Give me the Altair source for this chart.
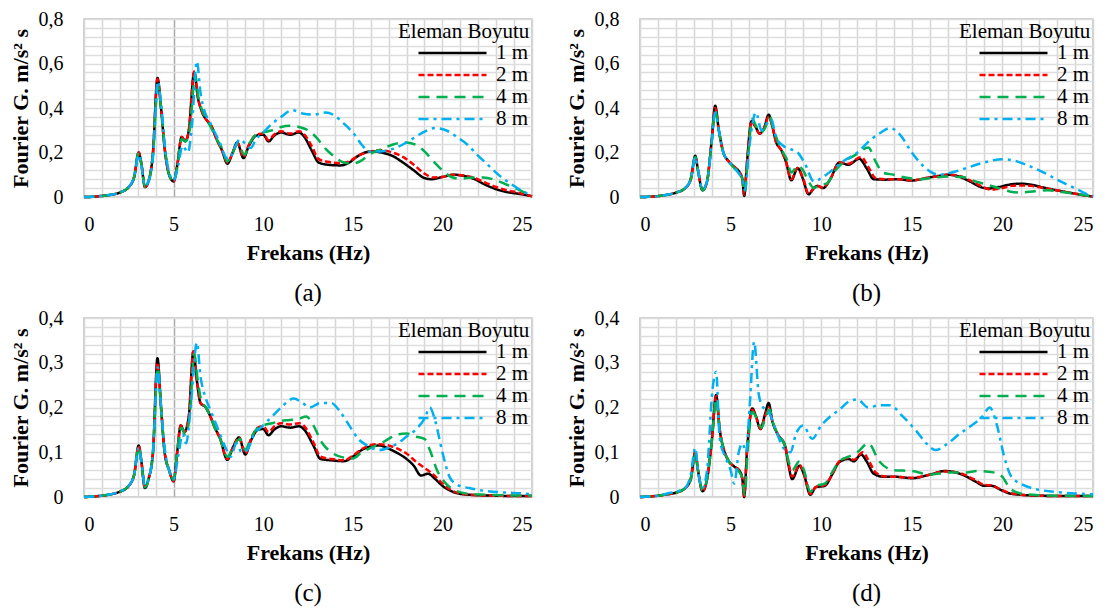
import altair as alt
import pandas as pd

SERIES = ["1 m", "2 m", "4 m", "8 m"]
COLORS = ["#000000", "#ff0000", "#00b050", "#00b0f0"]
DASHES = [[1, 0], [6, 3], [11, 7], [10, 5, 3, 5]]

# ---------------- panel (a) ----------------
A_1M = [(0,0),(0.5,0.001),(1,0.005),(1.5,0.01),(2,0.02),(2.5,0.045),(2.8,0.09),(3.05,0.2),(3.2,0.15),(3.4,0.045),(3.6,0.07),(3.85,0.2),(4.1,0.535),(4.3,0.4),(4.5,0.22),(4.75,0.1),(5.0,0.07),(5.2,0.14),(5.45,0.27),(5.65,0.25),(5.85,0.3),(6.15,0.56),(6.35,0.45),(6.6,0.38),(6.9,0.34),(7.1,0.32),(7.4,0.26),(7.7,0.21),(8.0,0.15),(8.3,0.2),(8.55,0.245),(8.9,0.175),(9.2,0.23),(9.6,0.275),(10.0,0.28),(10.3,0.25),(10.6,0.275),(11.0,0.29),(11.5,0.28),(12.0,0.29),(12.3,0.27),(12.7,0.21),(13.1,0.155),(13.6,0.145),(14.3,0.142),(14.8,0.155),(15.3,0.185),(16.0,0.205),(16.6,0.2),(17.2,0.185),(17.8,0.155),(18.4,0.12),(19.0,0.085),(19.4,0.08),(20.0,0.09),(20.6,0.1),(21.2,0.095),(21.8,0.08),(22.4,0.055),(23.0,0.035),(23.6,0.022),(24.2,0.015),(24.6,0.01),(25,0.003)]
A_2M = [(0,0),(0.5,0.001),(1,0.005),(1.5,0.01),(2,0.02),(2.5,0.045),(2.8,0.09),(3.05,0.2),(3.2,0.15),(3.4,0.045),(3.6,0.07),(3.85,0.2),(4.1,0.53),(4.3,0.4),(4.5,0.22),(4.75,0.1),(5.0,0.07),(5.2,0.14),(5.45,0.27),(5.65,0.25),(5.85,0.3),(6.15,0.565),(6.35,0.45),(6.6,0.38),(6.9,0.34),(7.1,0.32),(7.4,0.26),(7.7,0.21),(8.0,0.155),(8.3,0.2),(8.55,0.245),(8.9,0.18),(9.2,0.235),(9.6,0.28),(10.0,0.285),(10.3,0.255),(10.6,0.28),(11.0,0.295),(11.5,0.285),(12.0,0.295),(12.3,0.28),(12.7,0.23),(13.1,0.17),(13.6,0.158),(14.3,0.152),(14.8,0.16),(15.3,0.185),(16.0,0.205),(16.6,0.21),(17.2,0.2),(17.8,0.18),(18.4,0.145),(19.0,0.105),(19.5,0.088),(20.0,0.09),(20.6,0.1),(21.2,0.097),(21.8,0.085),(22.4,0.065),(23.0,0.045),(23.6,0.03),(24.2,0.02),(24.6,0.012),(25,0.003)]
A_4M = [(0,0),(0.5,0.001),(1,0.005),(1.5,0.01),(2,0.02),(2.5,0.045),(2.8,0.09),(3.05,0.2),(3.2,0.15),(3.4,0.045),(3.6,0.07),(3.85,0.19),(4.12,0.5),(4.3,0.4),(4.5,0.23),(4.75,0.1),(5.0,0.07),(5.2,0.13),(5.45,0.26),(5.65,0.25),(5.9,0.3),(6.2,0.55),(6.4,0.44),(6.65,0.38),(6.9,0.34),(7.1,0.31),(7.4,0.26),(7.7,0.22),(8.0,0.16),(8.3,0.2),(8.6,0.24),(8.95,0.19),(9.3,0.25),(9.6,0.28),(10.0,0.29),(10.5,0.3),(11.0,0.315),(11.5,0.32),(12.0,0.315),(12.5,0.3),(13.0,0.265),(13.5,0.215),(14.0,0.18),(14.5,0.155),(15.0,0.15),(15.5,0.165),(16.0,0.195),(16.6,0.215),(17.2,0.235),(17.9,0.245),(18.5,0.235),(19.0,0.205),(19.5,0.16),(20.0,0.12),(20.5,0.09),(21.0,0.082),(21.7,0.088),(22.3,0.088),(23.0,0.075),(23.6,0.055),(24.2,0.035),(24.7,0.015),(25,0.003)]
A_8M = [(0,0),(0.5,0.001),(1,0.005),(1.5,0.01),(2,0.02),(2.5,0.045),(2.8,0.09),(3.05,0.19),(3.2,0.14),(3.4,0.05),(3.6,0.07),(3.85,0.18),(4.12,0.52),(4.3,0.42),(4.5,0.24),(4.75,0.11),(5.0,0.075),(5.25,0.14),(5.5,0.23),(5.8,0.2),(6.0,0.3),(6.3,0.61),(6.5,0.47),(6.75,0.38),(7.0,0.34),(7.3,0.29),(7.6,0.24),(7.9,0.18),(8.1,0.17),(8.4,0.22),(8.7,0.26),(9.0,0.24),(9.3,0.22),(9.6,0.26),(10.0,0.29),(10.5,0.33),(11.0,0.36),(11.6,0.39),(12.2,0.375),(12.8,0.37),(13.5,0.38),(14.0,0.365),(14.5,0.33),(15.0,0.29),(15.5,0.235),(15.9,0.205),(16.5,0.205),(17.2,0.215),(18.0,0.245),(18.8,0.285),(19.6,0.31),(20.2,0.3),(20.8,0.27),(21.4,0.235),(22.0,0.185),(22.6,0.14),(23.2,0.095),(23.8,0.06),(24.4,0.03),(25,0.005)]

# ---------------- panel (b) ----------------
B_1M = [(0,0),(0.5,0.001),(1,0.004),(1.5,0.01),(2,0.02),(2.5,0.04),(2.8,0.08),(3.05,0.185),(3.2,0.12),(3.45,0.03),(3.7,0.07),(3.95,0.25),(4.15,0.41),(4.35,0.3),(4.6,0.2),(4.9,0.16),(5.2,0.135),(5.5,0.11),(5.65,0.08),(5.75,0.005),(5.9,0.15),(6.15,0.34),(6.35,0.32),(6.6,0.285),(6.85,0.31),(7.1,0.37),(7.3,0.32),(7.5,0.25),(7.8,0.21),(8.05,0.16),(8.35,0.075),(8.7,0.13),(9.0,0.08),(9.3,0.012),(9.6,0.04),(9.8,0.05),(10.1,0.04),(10.5,0.08),(11.0,0.155),(11.5,0.145),(12.1,0.172),(12.5,0.13),(12.9,0.08),(13.5,0.078),(14.2,0.08),(15.0,0.074),(15.8,0.085),(16.5,0.095),(17.0,0.1),(17.6,0.092),(18.2,0.07),(18.8,0.045),(19.2,0.038),(19.8,0.045),(20.5,0.057),(21.0,0.06),(21.6,0.055),(22.3,0.042),(23.0,0.03),(23.8,0.018),(24.5,0.008),(25,0.002)]
B_2M = [(0,0),(0.5,0.001),(1,0.004),(1.5,0.01),(2,0.02),(2.5,0.04),(2.8,0.08),(3.05,0.18),(3.2,0.12),(3.45,0.03),(3.7,0.07),(3.95,0.25),(4.15,0.4),(4.35,0.3),(4.6,0.2),(4.9,0.16),(5.2,0.135),(5.5,0.11),(5.65,0.08),(5.75,0.01),(5.9,0.15),(6.15,0.34),(6.35,0.32),(6.6,0.285),(6.85,0.31),(7.1,0.36),(7.3,0.32),(7.5,0.25),(7.8,0.21),(8.05,0.16),(8.35,0.08),(8.7,0.13),(9.0,0.085),(9.3,0.015),(9.6,0.04),(9.8,0.05),(10.1,0.042),(10.5,0.08),(11.0,0.155),(11.5,0.15),(12.2,0.18),(12.6,0.135),(13.0,0.085),(13.5,0.08),(14.2,0.08),(15.0,0.075),(15.8,0.085),(16.5,0.095),(17.0,0.1),(17.6,0.095),(18.2,0.075),(18.8,0.05),(19.4,0.033),(20.0,0.04),(20.5,0.05),(21.0,0.052),(21.6,0.05),(22.3,0.04),(23.0,0.03),(23.8,0.018),(24.5,0.008),(25,0.002)]
B_4M = [(0,0),(0.5,0.001),(1,0.004),(1.5,0.01),(2,0.02),(2.5,0.04),(2.8,0.08),(3.05,0.18),(3.2,0.12),(3.45,0.03),(3.7,0.07),(3.95,0.24),(4.15,0.39),(4.35,0.3),(4.6,0.2),(4.9,0.16),(5.2,0.13),(5.5,0.11),(5.65,0.08),(5.78,0.02),(5.95,0.17),(6.2,0.35),(6.4,0.32),(6.65,0.29),(6.9,0.31),(7.15,0.36),(7.35,0.31),(7.6,0.25),(7.9,0.2),(8.1,0.17),(8.35,0.11),(8.7,0.14),(9.0,0.12),(9.3,0.07),(9.6,0.04),(9.9,0.055),(10.3,0.06),(10.7,0.11),(11.2,0.155),(11.8,0.185),(12.6,0.222),(13.0,0.16),(13.4,0.11),(14.0,0.1),(14.8,0.085),(15.5,0.08),(16.3,0.088),(17.0,0.092),(17.8,0.09),(18.5,0.07),(19.2,0.055),(19.8,0.04),(20.4,0.025),(21.0,0.02),(21.8,0.026),(22.5,0.03),(23.3,0.022),(24.2,0.012),(25,0.002)]
B_8M = [(0,0),(0.5,0.001),(1,0.004),(1.5,0.01),(2,0.02),(2.5,0.04),(2.8,0.08),(3.05,0.18),(3.2,0.12),(3.45,0.035),(3.7,0.07),(3.95,0.24),(4.15,0.38),(4.35,0.3),(4.6,0.2),(4.9,0.16),(5.2,0.13),(5.5,0.1),(5.7,0.06),(5.8,0.03),(6.0,0.2),(6.4,0.38),(6.7,0.3),(7.0,0.33),(7.25,0.35),(7.5,0.27),(7.9,0.23),(8.3,0.215),(8.7,0.2),(9.1,0.15),(9.6,0.07),(10.1,0.09),(10.6,0.12),(11.2,0.16),(12.0,0.2),(12.7,0.255),(13.3,0.29),(13.8,0.31),(14.4,0.275),(15.0,0.2),(15.5,0.15),(16.0,0.115),(16.5,0.1),(17.2,0.11),(18.0,0.13),(19.0,0.155),(20.0,0.17),(20.8,0.16),(21.6,0.135),(22.4,0.105),(23.2,0.07),(24.0,0.04),(24.6,0.015),(25,0.002)]

# ---------------- panel (c) ----------------
C_1M = [(0,0),(0.5,0.001),(1,0.003),(1.5,0.006),(2,0.012),(2.5,0.025),(2.8,0.05),(3.05,0.115),(3.2,0.08),(3.4,0.02),(3.6,0.04),(3.85,0.1),(4.1,0.31),(4.3,0.2),(4.5,0.1),(4.75,0.06),(5.0,0.035),(5.2,0.1),(5.4,0.16),(5.6,0.145),(5.85,0.18),(6.1,0.325),(6.3,0.26),(6.5,0.21),(6.8,0.2),(7.0,0.185),(7.3,0.155),(7.6,0.13),(8.0,0.083),(8.3,0.11),(8.65,0.133),(9.0,0.095),(9.3,0.125),(9.7,0.15),(10.0,0.152),(10.3,0.138),(10.6,0.15),(11.0,0.158),(11.5,0.155),(12.0,0.158),(12.3,0.15),(12.8,0.115),(13.2,0.085),(13.8,0.082),(14.5,0.08),(15.0,0.09),(15.5,0.105),(16.0,0.113),(16.5,0.115),(17.0,0.108),(17.5,0.098),(18.0,0.085),(18.4,0.07),(18.8,0.048),(19.2,0.052),(19.6,0.04),(20.0,0.025),(20.5,0.013),(21.0,0.007),(22.0,0.004),(23.0,0.003),(24.0,0.002),(25,0.002)]
C_2M = [(0,0),(0.5,0.001),(1,0.003),(1.5,0.006),(2,0.012),(2.5,0.025),(2.8,0.05),(3.05,0.115),(3.2,0.08),(3.4,0.02),(3.6,0.04),(3.85,0.1),(4.1,0.3),(4.3,0.2),(4.5,0.1),(4.75,0.06),(5.0,0.035),(5.2,0.1),(5.4,0.16),(5.6,0.145),(5.85,0.18),(6.1,0.325),(6.3,0.26),(6.5,0.21),(6.8,0.2),(7.0,0.185),(7.3,0.155),(7.6,0.13),(8.0,0.085),(8.3,0.11),(8.65,0.133),(9.0,0.097),(9.3,0.128),(9.7,0.155),(10.0,0.158),(10.3,0.145),(10.6,0.157),(11.0,0.165),(11.5,0.162),(12.0,0.165),(12.3,0.158),(12.8,0.122),(13.2,0.09),(13.8,0.085),(14.5,0.082),(15.0,0.092),(15.5,0.107),(16.0,0.116),(16.5,0.118),(17.0,0.115),(17.5,0.108),(18.0,0.097),(18.5,0.08),(19.0,0.065),(19.5,0.05),(20.0,0.03),(20.5,0.015),(21.0,0.008),(22.0,0.004),(23.0,0.003),(24.0,0.002),(25,0.002)]
C_4M = [(0,0),(0.5,0.001),(1,0.003),(1.5,0.006),(2,0.012),(2.5,0.025),(2.8,0.05),(3.05,0.11),(3.2,0.08),(3.4,0.022),(3.6,0.04),(3.85,0.1),(4.12,0.29),(4.3,0.2),(4.5,0.1),(4.75,0.06),(5.0,0.038),(5.2,0.1),(5.45,0.155),(5.65,0.14),(5.9,0.18),(6.15,0.32),(6.35,0.26),(6.55,0.215),(6.8,0.2),(7.0,0.185),(7.3,0.155),(7.6,0.13),(8.0,0.09),(8.3,0.11),(8.7,0.13),(9.0,0.105),(9.3,0.13),(9.7,0.155),(10.0,0.16),(10.5,0.165),(11.0,0.17),(11.5,0.172),(12.0,0.175),(12.4,0.18),(12.8,0.16),(13.3,0.12),(13.8,0.1),(14.5,0.088),(15.0,0.086),(15.5,0.1),(16.0,0.11),(16.5,0.118),(17.0,0.13),(17.5,0.14),(18.0,0.142),(18.5,0.135),(19.0,0.13),(19.3,0.105),(19.7,0.06),(20.2,0.03),(20.7,0.015),(21.5,0.007),(22.5,0.005),(25,0.003)]
C_8M = [(0,0),(0.5,0.001),(1,0.003),(1.5,0.006),(2,0.012),(2.5,0.025),(2.8,0.05),(3.05,0.11),(3.2,0.08),(3.4,0.025),(3.6,0.04),(3.85,0.1),(4.12,0.29),(4.3,0.2),(4.5,0.11),(4.75,0.06),(5.0,0.04),(5.25,0.09),(5.5,0.14),(5.7,0.12),(5.95,0.2),(6.3,0.345),(6.5,0.27),(6.8,0.22),(7.1,0.19),(7.5,0.15),(7.9,0.11),(8.2,0.09),(8.5,0.12),(8.8,0.1),(9.1,0.105),(9.5,0.14),(10.0,0.16),(10.5,0.18),(11.0,0.2),(11.7,0.22),(12.2,0.21),(12.6,0.2),(13.2,0.21),(13.8,0.21),(14.3,0.19),(14.8,0.16),(15.3,0.13),(15.8,0.115),(16.5,0.105),(17.0,0.11),(17.5,0.12),(18.0,0.135),(18.5,0.15),(19.0,0.175),(19.3,0.2),(19.6,0.17),(20.0,0.1),(20.4,0.045),(20.8,0.028),(21.5,0.02),(22.5,0.013),(23.5,0.01),(24.5,0.008),(25,0.006)]

# ---------------- panel (d) ----------------
D_1M = [(0,0),(0.5,0.001),(1,0.003),(1.5,0.006),(2,0.01),(2.5,0.02),(2.8,0.04),(3.05,0.1),(3.2,0.06),(3.45,0.013),(3.7,0.04),(3.95,0.12),(4.2,0.228),(4.4,0.15),(4.6,0.11),(4.9,0.08),(5.2,0.068),(5.5,0.058),(5.65,0.04),(5.75,0.0),(5.9,0.1),(6.2,0.198),(6.4,0.18),(6.65,0.152),(6.9,0.185),(7.1,0.21),(7.3,0.17),(7.6,0.14),(8.0,0.115),(8.2,0.07),(8.4,0.04),(8.8,0.07),(9.05,0.05),(9.4,0.005),(9.7,0.022),(10.2,0.025),(10.6,0.05),(11.0,0.078),(11.5,0.085),(11.8,0.08),(12.2,0.095),(12.5,0.08),(12.9,0.052),(13.5,0.045),(14.2,0.045),(15.0,0.042),(16.0,0.05),(16.8,0.058),(17.5,0.054),(18.0,0.046),(18.5,0.035),(19.0,0.025),(19.4,0.025),(19.9,0.016),(20.4,0.008),(21.0,0.005),(22.0,0.003),(23.5,0.002),(25,0.002)]
D_2M = [(0,0),(0.5,0.001),(1,0.003),(1.5,0.006),(2,0.01),(2.5,0.02),(2.8,0.04),(3.05,0.1),(3.2,0.06),(3.45,0.013),(3.7,0.04),(3.95,0.12),(4.2,0.225),(4.4,0.15),(4.6,0.11),(4.9,0.08),(5.2,0.068),(5.5,0.058),(5.65,0.04),(5.75,0.002),(5.9,0.1),(6.2,0.195),(6.4,0.18),(6.65,0.152),(6.9,0.18),(7.1,0.2),(7.3,0.17),(7.6,0.14),(8.0,0.115),(8.2,0.075),(8.4,0.045),(8.8,0.072),(9.05,0.052),(9.4,0.007),(9.7,0.022),(10.2,0.027),(10.6,0.05),(11.0,0.08),(11.5,0.087),(11.8,0.083),(12.3,0.1),(12.6,0.083),(13.0,0.055),(13.5,0.046),(14.2,0.045),(15.0,0.043),(16.0,0.05),(16.8,0.057),(17.5,0.055),(18.0,0.048),(18.5,0.038),(19.0,0.027),(19.4,0.026),(19.9,0.017),(20.4,0.009),(21.0,0.005),(22.0,0.003),(23.5,0.002),(25,0.002)]
D_4M = [(0,0),(0.5,0.001),(1,0.003),(1.5,0.006),(2,0.01),(2.5,0.02),(2.8,0.04),(3.05,0.095),(3.2,0.06),(3.45,0.015),(3.7,0.04),(3.95,0.12),(4.22,0.22),(4.4,0.15),(4.6,0.11),(4.9,0.08),(5.2,0.065),(5.5,0.055),(5.65,0.04),(5.78,0.005),(5.95,0.11),(6.2,0.19),(6.45,0.175),(6.7,0.155),(6.95,0.18),(7.15,0.195),(7.35,0.165),(7.6,0.14),(8.0,0.115),(8.2,0.08),(8.4,0.06),(8.8,0.08),(9.05,0.06),(9.4,0.012),(9.7,0.025),(10.2,0.03),(10.6,0.055),(11.0,0.08),(11.5,0.09),(12.0,0.1),(12.6,0.12),(13.2,0.08),(14.0,0.06),(15.0,0.058),(16.0,0.05),(17.0,0.055),(18.0,0.055),(18.6,0.058),(19.5,0.055),(20.0,0.045),(20.4,0.02),(21.0,0.008),(22.0,0.004),(25,0.002)]
D_8M = [(0,0),(0.5,0.001),(1,0.003),(1.5,0.008),(2,0.012),(2.5,0.02),(2.8,0.05),(3.05,0.11),(3.2,0.06),(3.45,0.02),(3.7,0.06),(4.0,0.24),(4.2,0.28),(4.4,0.13),(4.7,0.09),(5.0,0.06),(5.2,0.03),(5.45,0.1),(5.65,0.12),(5.85,0.1),(6.05,0.2),(6.3,0.347),(6.55,0.23),(6.8,0.2),(7.1,0.19),(7.5,0.15),(7.9,0.11),(8.3,0.1),(8.6,0.14),(9.0,0.16),(9.5,0.13),(10.0,0.16),(10.5,0.18),(11.0,0.195),(11.6,0.215),(12.0,0.218),(12.6,0.2),(13.2,0.205),(13.8,0.205),(14.5,0.18),(15.2,0.15),(15.8,0.12),(16.3,0.105),(17.0,0.12),(17.6,0.14),(18.3,0.16),(18.9,0.18),(19.3,0.2),(19.7,0.16),(20.1,0.09),(20.5,0.045),(21.0,0.03),(21.8,0.018),(22.8,0.012),(24.0,0.008),(25,0.006)]

X_TITLE = "Frekans (Hz)"
Y_TITLE = "Fourier G. m/s² s"
LEGEND_TITLE = "Eleman Boyutu"
FONT = "Liberation Serif"


def panel(series, ymax, ystep, label_every, width, height, label, dark5):
    rows = []
    for name, pts in zip(SERIES, series):
        for i, (f, v) in enumerate(pts):
            rows.append({"f": f, "v": v, "s": name, "i": i})
    df = pd.DataFrame(rows)
    n = int(round(ymax / ystep))
    yvals = [round(k * ystep, 4) for k in range(n + 1)]
    grid_x = ({"condition": {"test": "datum.value === 5", "value": "#a9a9a9"}, "value": "#d6d6d6"}
              if dark5 else "#d6d6d6")
    lab_y = (f"round(datum.value*100) % {label_every} == 0 ? "
             "(datum.value == 0 ? '0' : replace(format(datum.value, '.1f'), '.', ',')) : ''")
    return alt.Chart(df).mark_line(interpolate="monotone", strokeWidth=2.5).encode(
        x=alt.X("f:Q", scale=alt.Scale(domain=[0, 25], nice=False, zero=True),
                axis=alt.Axis(values=list(range(26)), title=X_TITLE, gridColor=grid_x,
                              labelExpr="datum.value % 5 == 0 ? datum.label : ''",
                              labelOverlap=False, labelPadding=17, titlePadding=8)),
        y=alt.Y("v:Q", scale=alt.Scale(domain=[0, ymax], nice=False),
                axis=alt.Axis(values=yvals, title=Y_TITLE, labelExpr=lab_y,
                              labelOverlap=False, labelPadding=21, titlePadding=6)),
        color=alt.Color("s:N", scale=alt.Scale(domain=SERIES, range=COLORS),
                        legend=alt.Legend(title=LEGEND_TITLE)),
        strokeDash=alt.StrokeDash("s:N", scale=alt.Scale(domain=SERIES, range=DASHES),
                                  legend=alt.Legend(title=LEGEND_TITLE)),
        order="i:Q",
    ).properties(
        width=width, height=height,
        title=alt.TitleParams(label, orient="bottom", anchor="middle", frame="group",
                              font=FONT, fontSize=25, fontWeight="normal", color="black", offset=18),
    )


pa = panel([A_1M, A_2M, A_4M, A_8M], 0.8, 0.04, 20, 448, 178, "(a)", True)
pb = panel([B_1M, B_2M, B_4M, B_8M], 0.8, 0.04, 20, 453, 178, "(b)", False)
pc = panel([C_1M, C_2M, C_4M, C_8M], 0.4, 0.02, 10, 448, 179, "(c)", True)
pd_ = panel([D_1M, D_2M, D_4M, D_8M], 0.4, 0.02, 10, 453, 179, "(d)", False)


def indep(ch):
    return ch.resolve_scale(color="independent", strokeDash="independent").resolve_legend(
        color="independent", strokeDash="independent")


row1 = indep(alt.hconcat(pa, pb, spacing=26))
row2 = indep(alt.hconcat(pc, pd_, spacing=26))
chart = indep(alt.vconcat(row1, row2, spacing=0)).properties(padding=0).configure_view(
    stroke="#bfbfbf", strokeWidth=1.5
).configure_axis(
    domain=False, ticks=False, gridWidth=1.5,
    labelFont=FONT, labelFontSize=20, labelColor="black",
    titleFont=FONT, titleFontSize=22, titleFontWeight="bold", titleColor="black",
).configure_legend(
    orient="top-right", offset=2, padding=0,
    titleFont=FONT, titleFontSize=21, titleFontWeight="normal", titleColor="black",
    labelFont=FONT, labelFontSize=21, labelColor="black",
    symbolType="stroke", symbolSize=4624, symbolStrokeWidth=2.5, symbolOffset=19,
    labelOffset=8, rowPadding=0, clipHeight=22, titlePadding=0, labelLimit=200,
)

chart.save("out.html", embed_options={"renderer": "svg", "actions": False})
